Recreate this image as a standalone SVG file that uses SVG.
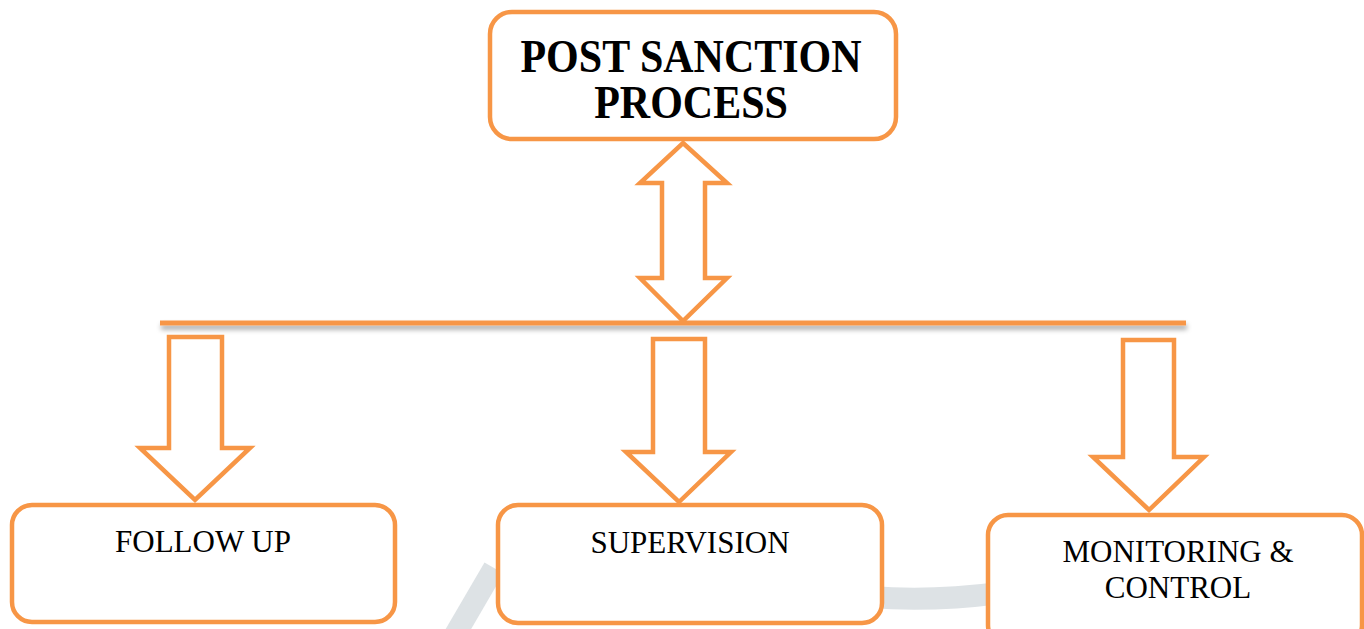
<svg xmlns="http://www.w3.org/2000/svg" width="1364" height="629" viewBox="0 0 1364 629">
  <defs>
    <filter id="shadow" filterUnits="userSpaceOnUse" x="140" y="300" width="1070" height="50">
      <feDropShadow dx="1" dy="4" stdDeviation="2.5" flood-color="#000000" flood-opacity="0.35"/>
    </filter>
    <style>
      .box { fill: #ffffff; stroke: #F79646; stroke-width: 4.5; }
      .arrow { fill: #ffffff; stroke: #F79646; stroke-width: 4.5; stroke-linejoin: miter; }
      .wm { fill: none; stroke: #DDE2E5; stroke-width: 22; stroke-linecap: butt; }
      .title { font-family: "Liberation Serif", "Times New Roman", serif; font-weight: bold; font-size: 42px; fill: #000; text-anchor: middle; }
      .label { font-family: "Liberation Serif", "Times New Roman", serif; font-size: 31px; fill: #000; text-anchor: middle; }
    </style>
  </defs>
  <rect width="1364" height="629" fill="#ffffff"/>

  <g id="watermark">
    <path class="wm" d="M 494 568 L 452 640"/>
    <path class="wm" d="M 870 597 Q 930 602 1000 593"/>
  </g>

  <g id="connectors">
    <rect x="160" y="320.5" width="1026" height="5" fill="#F79646" filter="url(#shadow)"/>
    <polygon class="arrow" points="683,143 727,183 705,183 705,278 727,278 683,321 640,278 662,278 662,183 640,183"/>
    <polygon class="arrow" points="169,337 222,337 222,448 250,448 195,500 140,448 169,448"/>
    <polygon class="arrow" points="653,339 705,339 705,452 731,452 679,502 626,452 653,452"/>
    <polygon class="arrow" points="1123,340 1174,340 1174,457 1204,457 1149,510 1093,457 1123,457"/>
  </g>

  <g id="node-post-sanction">
    <rect class="box" x="490" y="12" width="406" height="127" rx="22"/>
    <text class="title" transform="translate(691,72) scale(1,1.08)">POST SANCTION</text>
    <text class="title" transform="translate(691,118) scale(1,1.08)">PROCESS</text>
  </g>

  <g id="node-follow-up">
    <rect class="box" x="12" y="505" width="383" height="117" rx="20"/>
    <text class="label" x="203" y="552">FOLLOW UP</text>
  </g>

  <g id="node-supervision">
    <rect class="box" x="498" y="505" width="384" height="118" rx="20"/>
    <text class="label" x="690" y="553">SUPERVISION</text>
  </g>

  <g id="node-monitoring">
    <rect class="box" x="988" y="515" width="374" height="130" rx="20"/>
    <text class="label" x="1178" y="562">MONITORING &amp;</text>
    <text class="label" x="1178" y="598">CONTROL</text>
  </g>
</svg>
